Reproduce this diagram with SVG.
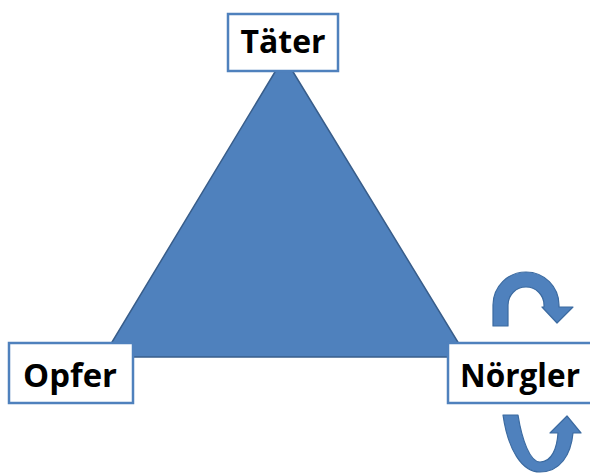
<svg xmlns="http://www.w3.org/2000/svg" width="590" height="474" viewBox="0 0 590 474">
<style>
.box{fill:#ffffff;stroke:#4f81bd;stroke-width:2.5}
.lbl{font-family:"Open Sans","Noto Sans","Liberation Sans",sans-serif;font-weight:bold;font-size:33px;fill:#000;text-anchor:middle}
.arr{fill:#4f81bd;stroke:#3b6aa0;stroke-width:1.2;stroke-linejoin:round}
</style>
<rect width="590" height="474" fill="#ffffff"/>
<g id="connectors">
<polygon id="triangle" points="284,57 103,357 467,357" fill="#4f81bd" stroke="#385d8a" stroke-width="1.5"/>
<path id="loop-top" class="arr" d="M493,326 L493,305 A33,33 0 0 1 559,305 L559,307 L573,307 L557,323 L542,307 L544,307 L544,305 A18,18 0 0 0 508,305 L508,326 Z"/>
<path id="loop-bottom" class="arr" d="M503,415 L518,415 C522,440 530,462 540,462 C552,462 557,448 558,433 L550,433 L567,416 L581,433 L573,433 C571,455 560,472 540,472 C522,472 508,450 503,415 Z"/>
</g>
<g id="taeter">
<rect class="box" x="228" y="14" width="110" height="57"/>
<text class="lbl" x="283" y="53" textLength="85" lengthAdjust="spacingAndGlyphs">Täter</text>
</g>
<g id="opfer">
<rect class="box" x="9" y="343" width="124" height="60"/>
<text class="lbl" x="70" y="387" textLength="94" lengthAdjust="spacingAndGlyphs">Opfer</text>
</g>
<g id="noergler">
<rect class="box" x="448" y="343" width="146" height="60"/>
<text class="lbl" x="520" y="387" textLength="120" lengthAdjust="spacingAndGlyphs">Nörgler</text>
</g>
</svg>
